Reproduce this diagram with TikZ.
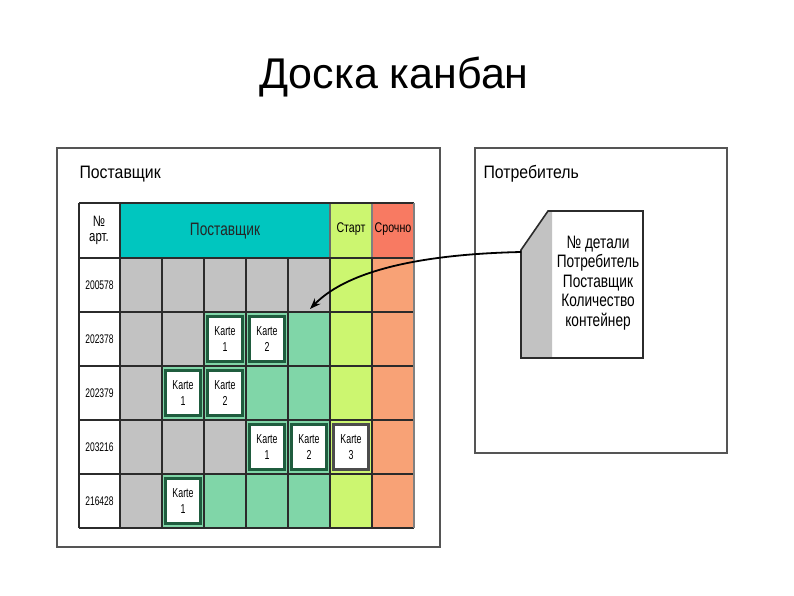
\documentclass[tikz,border=0pt]{standalone}
\usepackage{fontspec}
\setmainfont{Liberation Sans}
\newfontfamily\narrowfont[FakeStretch=0.76]{Liberation Sans}
\newfontfamily\tightfont[FakeStretch=0.68]{Liberation Sans}
\newfontfamily\semifont[FakeStretch=0.88]{Liberation Sans}
\usetikzlibrary{arrows.meta}
\definecolor{cgray}{HTML}{C2C2C2}
\definecolor{cgreen}{HTML}{80D6A8}
\definecolor{cstart}{HTML}{CCF670}
\definecolor{curg}{HTML}{F8A276}
\definecolor{curgh}{HTML}{F87A62}
\definecolor{ccyan}{HTML}{00C6BF}
\definecolor{cline}{HTML}{2B2B2B}
\definecolor{cardedge}{HTML}{1F5C3E}
\begin{document}
\begin{tikzpicture}[x=1pt,y=-1pt,
  frame/.style={draw=cline!80, line width=1.6pt},
  karte/.style={draw=cardedge, fill=white, line width=2.2pt, minimum width=35pt, minimum height=45pt, inner sep=0pt, align=center, font=\tightfont\fontsize{13}{16}\selectfont},
  rowlab/.style={font=\tightfont\fontsize{12.5}{13}\selectfont},
  hdr/.style={font=\narrowfont\fontsize{14}{15}\selectfont, align=center}]
\useasboundingbox (0,0) rectangle (794,595);
% title
\node[font=\fontsize{43}{45}\selectfont] (title) at (394,77) {Доска канбан};
% left frame
\draw[frame] (57,148) rectangle (440,547);
\node[anchor=west, font=\semifont\fontsize{18}{19}\selectfont] (suplab) at (76,174) {Поставщик};
% header
\fill[white] (79,203) rectangle (120,258);
\fill[ccyan] (120,203) rectangle (330,258);
\fill[cstart] (330,203) rectangle (372,258);
\fill[curgh] (372,203) rectangle (414,258);
\node[hdr, font=\narrowfont\fontsize{15}{15}\selectfont] (hnr) at (99,230) {№\\арт.};
\node[font=\narrowfont\fontsize{18}{19}\selectfont, text=black!85] (hsup) at (225,231) {Поставщик};
\node[hdr] (hstart) at (351,229) {Старт};
\node[hdr] (hurg) at (393,229) {Срочно};
% cells: rows
\foreach \r/\a/\b/\c/\d/\e/\lab [count=\i from 0] in {
  1/cgray/cgray/cgray/cgray/cgray/200578,
  2/cgray/cgray/cgreen/cgreen/cgreen/202378,
  3/cgray/cgreen/cgreen/cgreen/cgreen/202379,
  4/cgray/cgray/cgray/cgreen/cgreen/203216,
  5/cgray/cgreen/cgreen/cgreen/cgreen/216428}{
  \pgfmathsetmacro{\yt}{258+54*\i}
  \pgfmathsetmacro{\yb}{312+54*\i}
  \fill[white] (79,\yt) rectangle (120,\yb);
  \fill[\a] (120,\yt) rectangle (162,\yb);
  \fill[\b] (162,\yt) rectangle (204,\yb);
  \fill[\c] (204,\yt) rectangle (246,\yb);
  \fill[\d] (246,\yt) rectangle (288,\yb);
  \fill[\e] (288,\yt) rectangle (330,\yb);
  \fill[cstart] (330,\yt) rectangle (372,\yb);
  \fill[curg] (372,\yt) rectangle (414,\yb);
  \node[rowlab] (lab\r) at (99.5,{(\yt+\yb)/2}) {\lab};
}
% grid lines
\foreach \x in {120,162,204,246,288,330,372}
  \draw[cline, line width=1.4pt] (\x,258) -- (\x,528);
\draw[cline, line width=1.4pt] (120,203) -- (120,258);
\draw[cline!70, line width=1.2pt] (330,203) -- (330,258);
\draw[cline!60, line width=1.2pt] (372,203) -- (372,258);
\foreach \y in {258,312,366,420,474}
  \draw[cline, line width=2pt] (79,\y) -- (414,\y);
\draw[cline, line width=2pt] (79,203) -- (414,203);
\draw[cline, line width=2pt] (79,528) -- (414,528);
\draw[cline, line width=2pt] (79,203) -- (79,528);
\draw[cline!60, line width=1.2pt] (414,203) -- (414,528);
% cards
\node[karte] (k21) at (225,339) {Karte\\1};
\node[karte] (k22) at (267,339) {Karte\\2};
\node[karte] (k31) at (183,393) {Karte\\1};
\node[karte] (k32) at (225,393) {Karte\\2};
\node[karte] (k41) at (267,447) {Karte\\1};
\node[karte] (k42) at (309,447) {Karte\\2};
\node[karte, draw=black!70] (k43) at (351,447) {Karte\\3};
\node[karte] (k51) at (183,501) {Karte\\1};
% right frame
\draw[frame] (475,148) rectangle (727,453);
\node[anchor=west, font=\semifont\fontsize{18}{19}\selectfont] (conlab) at (480,174) {Потребитель};
% kanban card
\fill[white] (521,250) -- (548,211) -- (643,211) -- (643,358) -- (521,358) -- cycle;
\fill[cgray] (521,250) -- (548,211) -- (552,211) -- (552,358) -- (521,358) -- cycle;
\draw[cline, line width=1.6pt] (521,250) -- (548,211) -- (643,211) -- (643,358) -- (521,358) -- cycle;
\node[align=center, font=\narrowfont\fontsize{18}{19.5}\selectfont] (kc) at (598,283) {№ детали\\Потребитель\\Поставщик\\Количество\\контейнер};
\coordinate (join) at (521,252);
\coordinate (tip) at (310,309);
\draw[-{Stealth[length=11pt,width=8pt]}, line width=1.8pt] (join) .. controls (430,254) and (350,268) .. (tip);
\end{tikzpicture}
\end{document}
